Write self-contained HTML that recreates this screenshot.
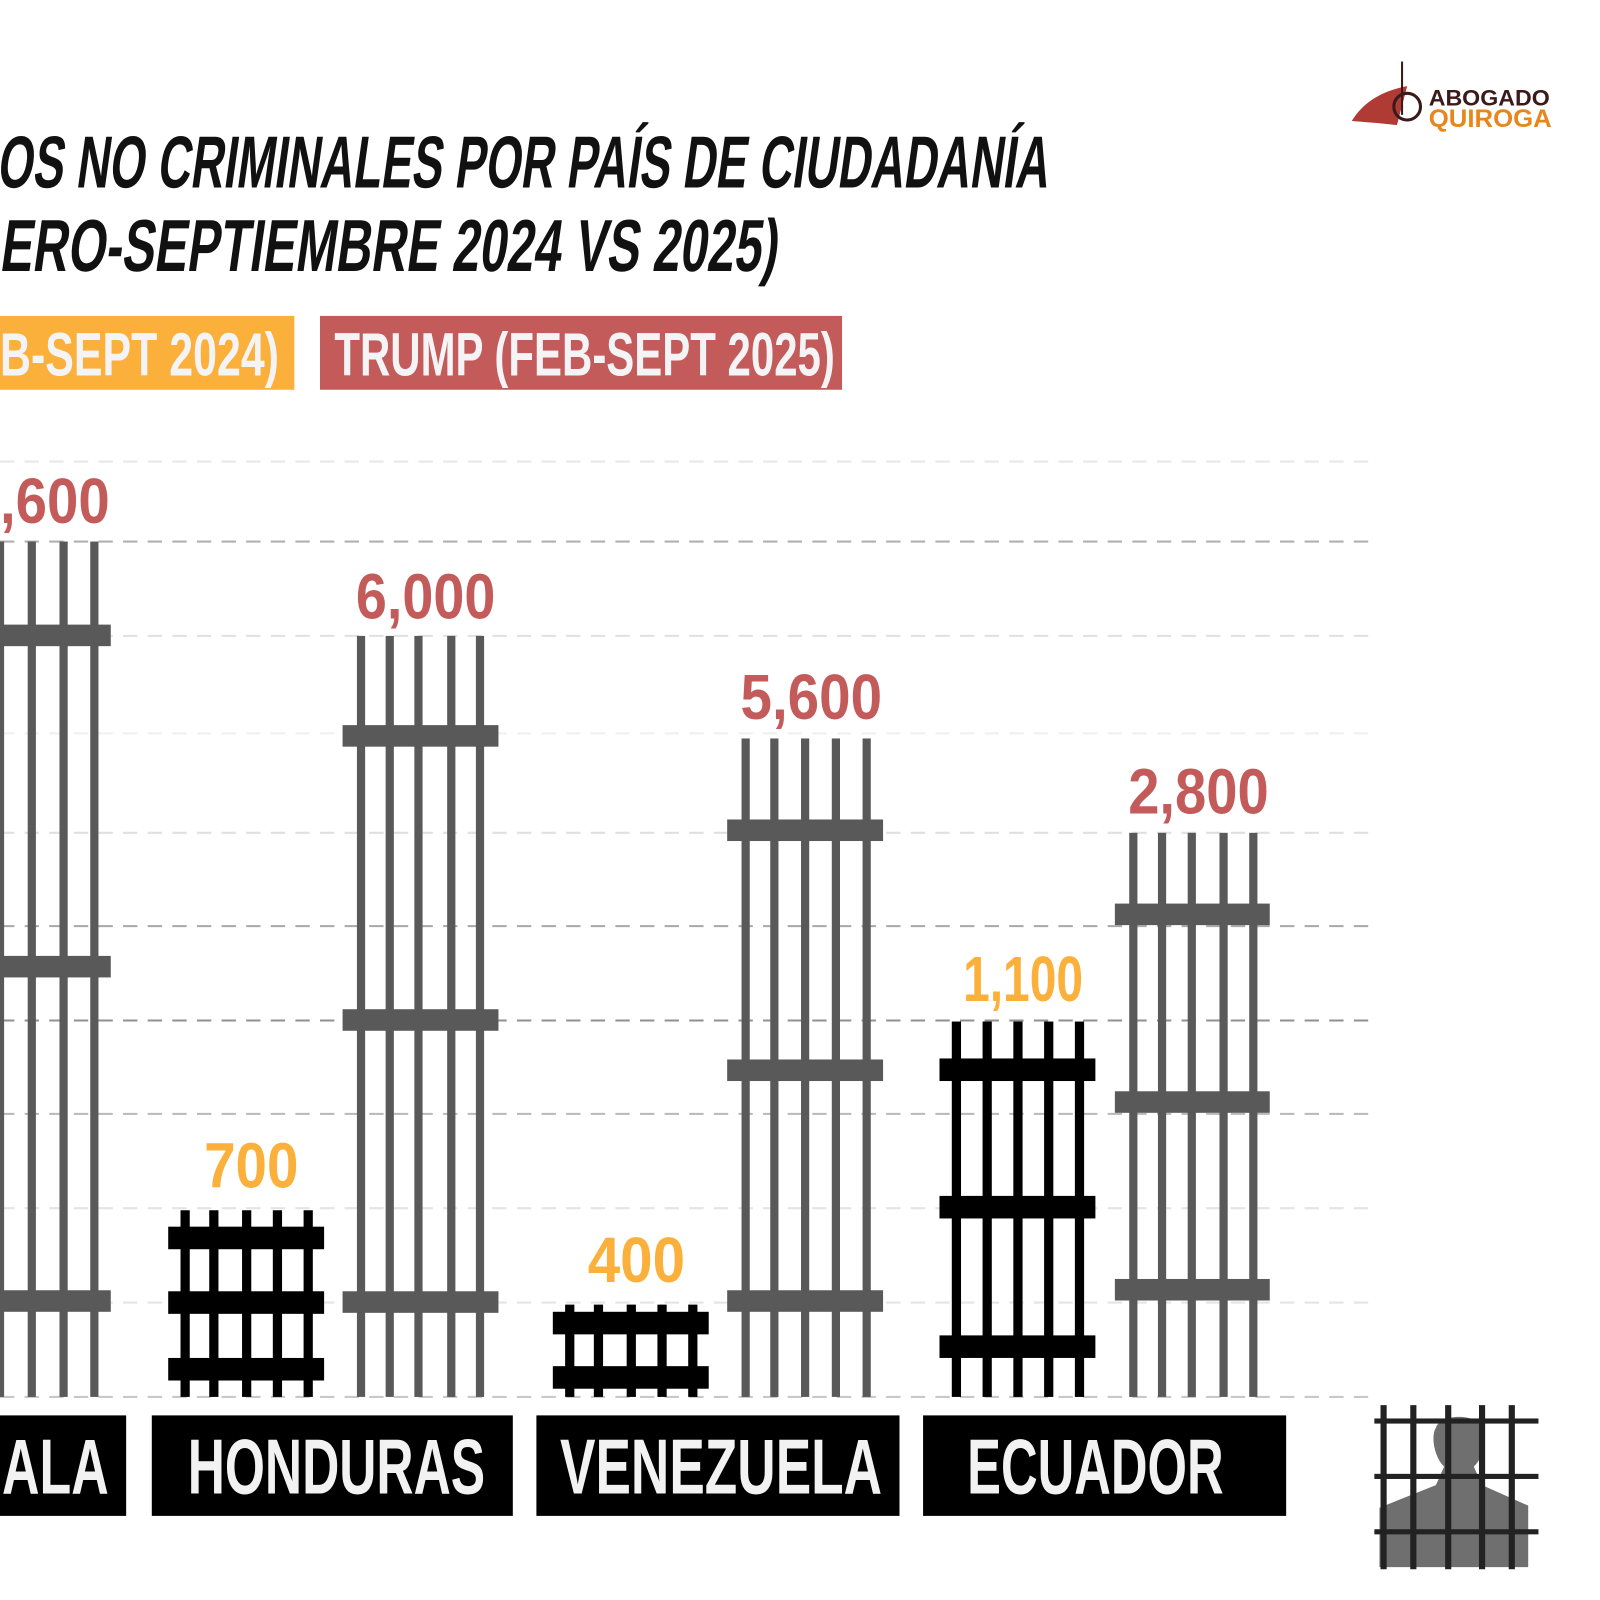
<!DOCTYPE html>
<html><head><meta charset="utf-8"><style>
html,body{margin:0;padding:0;background:#fff;}
svg{display:block;}
text{font-family:"Liberation Sans Narrow","Liberation Sans",sans-serif;font-weight:bold;}
</style></head><body>
<svg width="1600" height="1600" viewBox="0 0 1560 1560" xmlns="http://www.w3.org/2000/svg">
<rect width="1560" height="1560" fill="#fff"/>
<!-- logo -->
<path d="M1318 118 C1330 98,1350 88,1372 84 L1362 122 C1345 120,1330 119,1318 118Z" fill="#b03a34"/>
<line x1="1367" y1="60" x2="1367" y2="112" stroke="#3a1a1a" stroke-width="2"/>
<circle cx="1372" cy="104" r="13" fill="none" stroke="#3a1a1a" stroke-width="3"/>
<text x="1393" y="103" font-size="22" fill="#3a1a1a" font-family="Liberation Sans" textLength="118" lengthAdjust="spacingAndGlyphs">ABOGADO</text>
<text x="1393" y="124" font-size="24" fill="#e8861e" font-family="Liberation Sans" textLength="120" lengthAdjust="spacingAndGlyphs">QUIROGA</text>
<!-- title -->
<g transform="skewX(-8)">
<text x="22" y="183" font-size="72" fill="#111" textLength="1025" lengthAdjust="spacingAndGlyphs">OS NO CRIMINALES POR PAÍS DE CIUDADANÍA</text>
<text x="36" y="264" font-size="72" fill="#111" textLength="758" lengthAdjust="spacingAndGlyphs">ERO-SEPTIEMBRE 2024 VS 2025)</text>
</g>
<!-- legend -->
<rect x="0" y="308" width="287" height="72" fill="#fbb03b"/>
<text x="0" y="366" font-size="60" fill="#f4f4f6" textLength="272" lengthAdjust="spacingAndGlyphs">B-SEPT 2024)</text>
<rect x="312" y="308" width="509" height="72" fill="#c45b5b"/>
<text x="326" y="366" font-size="60" fill="#f4f4f6" textLength="488" lengthAdjust="spacingAndGlyphs">TRUMP (FEB-SEPT 2025)</text>
<!-- grid -->
<g stroke-dasharray="14 10" stroke-width="2" fill="none">
<line x1="0" y1="450" x2="1340" y2="450" stroke="#e8e8e8"/>
<line x1="0" y1="528" x2="1340" y2="528" stroke="#b0b0b0"/>
<line x1="0" y1="620" x2="1340" y2="620" stroke="#e0e0e0"/>
<line x1="0" y1="715" x2="1340" y2="715" stroke="#f0f0f0"/>
<line x1="0" y1="812" x2="1340" y2="812" stroke="#e0e0e0"/>
<line x1="0" y1="903" x2="1340" y2="903" stroke="#a8a8a8"/>
<line x1="0" y1="995" x2="1340" y2="995" stroke="#909090"/>
<line x1="0" y1="1086" x2="1340" y2="1086" stroke="#b8b8b8"/>
<line x1="0" y1="1178" x2="1340" y2="1178" stroke="#e4e4e4"/>
<line x1="0" y1="1270" x2="1340" y2="1270" stroke="#e4e4e4"/>
<line x1="0" y1="1362" x2="1340" y2="1362" stroke="#c8c8c8"/>
</g>
<!-- Guatemala 2025 -->
<g fill="#595959">
<rect x="-4" y="528" width="8" height="834"/><rect x="27" y="528" width="8" height="834"/><rect x="58" y="528" width="8" height="834"/><rect x="88" y="528" width="8" height="834"/>
<rect x="0" y="609" width="108" height="21"/><rect x="0" y="932" width="108" height="21"/><rect x="0" y="1258" width="108" height="21"/>
</g>
<text x="0" y="510" font-size="62" fill="#c45b5b" textLength="107" lengthAdjust="spacingAndGlyphs">,600</text>
<!-- Honduras 2024 -->
<g fill="#000">
<rect x="176" y="1180" width="9" height="182"/><rect x="204" y="1180" width="9" height="182"/><rect x="236" y="1180" width="9" height="182"/><rect x="266" y="1180" width="9" height="182"/><rect x="296" y="1180" width="9" height="182"/>
<rect x="164" y="1196" width="152" height="22"/><rect x="164" y="1259" width="152" height="22"/><rect x="164" y="1324" width="152" height="22"/>
</g>
<text x="199" y="1158" font-size="62" fill="#fbb03b" textLength="92" lengthAdjust="spacingAndGlyphs">700</text>
<!-- Honduras 2025 -->
<g fill="#595959">
<rect x="348" y="620" width="8" height="742"/><rect x="376" y="620" width="8" height="742"/><rect x="404" y="620" width="8" height="742"/><rect x="436" y="620" width="8" height="742"/><rect x="464" y="620" width="8" height="742"/>
<rect x="334" y="707" width="152" height="21"/><rect x="334" y="984" width="152" height="21"/><rect x="334" y="1259" width="152" height="21"/>
</g>
<text x="347" y="603" font-size="62" fill="#c45b5b" textLength="136" lengthAdjust="spacingAndGlyphs">6,000</text>
<!-- Venezuela 2024 -->
<g fill="#000">
<rect x="551" y="1272" width="9" height="90"/><rect x="579" y="1272" width="9" height="90"/><rect x="611" y="1272" width="9" height="90"/><rect x="641" y="1272" width="9" height="90"/><rect x="671" y="1272" width="9" height="90"/>
<rect x="539" y="1279" width="152" height="22"/><rect x="539" y="1332" width="152" height="22"/>
</g>
<text x="573" y="1250" font-size="62" fill="#fbb03b" textLength="95" lengthAdjust="spacingAndGlyphs">400</text>
<!-- Venezuela 2025 -->
<g fill="#595959">
<rect x="723" y="720" width="8" height="642"/><rect x="751" y="720" width="8" height="642"/><rect x="781" y="720" width="8" height="642"/><rect x="811" y="720" width="8" height="642"/><rect x="841" y="720" width="8" height="642"/>
<rect x="709" y="799" width="152" height="21"/><rect x="709" y="1033" width="152" height="21"/><rect x="709" y="1258" width="152" height="21"/>
</g>
<text x="722" y="701" font-size="62" fill="#c45b5b" textLength="138" lengthAdjust="spacingAndGlyphs">5,600</text>
<!-- Ecuador 2024 -->
<g fill="#000">
<rect x="928" y="996" width="9" height="366"/><rect x="958" y="996" width="9" height="366"/><rect x="988" y="996" width="9" height="366"/><rect x="1018" y="996" width="9" height="366"/><rect x="1048" y="996" width="9" height="366"/>
<rect x="916" y="1032" width="152" height="22"/><rect x="916" y="1166" width="152" height="22"/><rect x="916" y="1302" width="152" height="22"/>
</g>
<text x="939" y="976" font-size="62" fill="#fbb03b" textLength="117" lengthAdjust="spacingAndGlyphs">1,100</text>
<!-- Ecuador 2025 -->
<g fill="#595959">
<rect x="1101" y="812" width="8" height="550"/><rect x="1129" y="812" width="8" height="550"/><rect x="1158" y="812" width="8" height="550"/><rect x="1189" y="812" width="8" height="550"/><rect x="1218" y="812" width="8" height="550"/>
<rect x="1087" y="881" width="151" height="21"/><rect x="1087" y="1064" width="151" height="21"/><rect x="1087" y="1247" width="151" height="21"/>
</g>
<text x="1100" y="793" font-size="62" fill="#c45b5b" textLength="137" lengthAdjust="spacingAndGlyphs">2,800</text>
<!-- country labels -->
<rect x="0" y="1380" width="123" height="98" fill="#000"/>
<text x="2" y="1456" font-size="76" fill="#f2f2f2" textLength="104" lengthAdjust="spacingAndGlyphs">ALA</text>
<rect x="148" y="1380" width="352" height="98" fill="#000"/>
<text x="183" y="1456" font-size="76" fill="#f2f2f2" textLength="290" lengthAdjust="spacingAndGlyphs">HONDURAS</text>
<rect x="523" y="1380" width="354" height="98" fill="#000"/>
<text x="546" y="1456" font-size="76" fill="#f2f2f2" textLength="314" lengthAdjust="spacingAndGlyphs">VENEZUELA</text>
<rect x="900" y="1380" width="354" height="98" fill="#000"/>
<text x="943" y="1456" font-size="76" fill="#f2f2f2" textLength="250" lengthAdjust="spacingAndGlyphs">ECUADOR</text>
<!-- prisoner icon -->
<path d="M1345 1528 L1345 1470 L1400 1448 L1408 1430 C1398 1420,1395 1400,1400 1392 C1405 1378,1440 1378,1445 1392 C1450 1405,1447 1420,1437 1430 L1445 1448 L1490 1468 L1490 1528Z" fill="#6f6f6f"/>
<g fill="#222">
<rect x="1346" y="1370" width="6" height="160"/><rect x="1375" y="1370" width="6" height="160"/><rect x="1409" y="1370" width="6" height="160"/><rect x="1442" y="1370" width="6" height="160"/><rect x="1471" y="1370" width="6" height="160"/>
<rect x="1340" y="1383" width="160" height="5"/><rect x="1340" y="1437" width="160" height="5"/><rect x="1340" y="1491" width="160" height="5"/>
</g>
</svg>
</body></html>
